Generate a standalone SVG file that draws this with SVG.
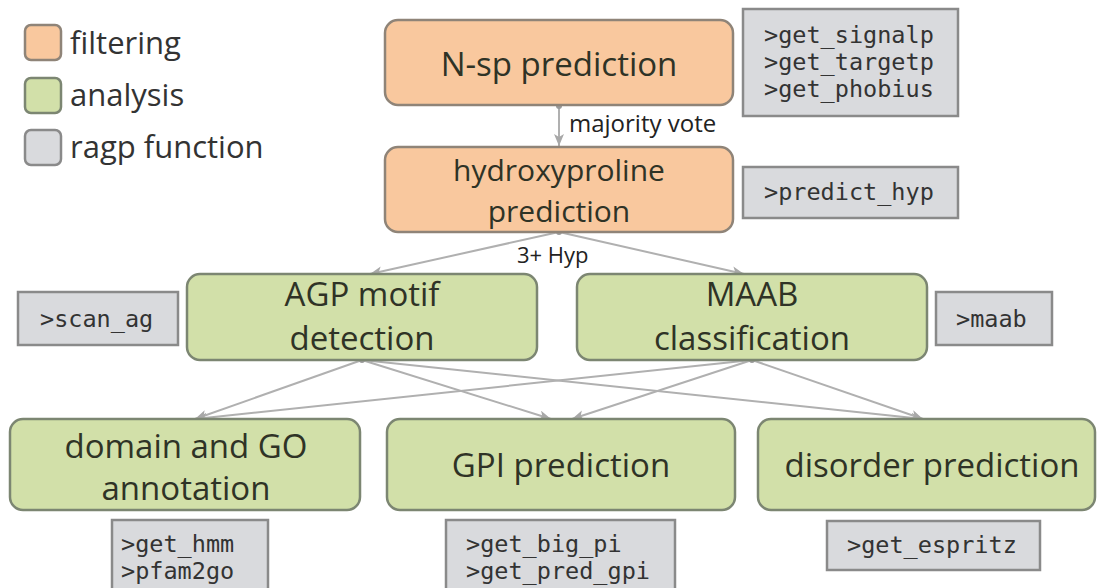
<svg xmlns="http://www.w3.org/2000/svg" width="1102" height="588" viewBox="0 0 1102 588">
<defs>
<marker id="ah" markerUnits="userSpaceOnUse" markerWidth="14" markerHeight="12" refX="12" refY="5" orient="auto">
<path d="M0,0 L12,5 L0,10 L3,5 z" fill="#a8a8a8"/>
</marker>
<style>
.bg{fill:#ffffff}
.filt{fill:#f9c89e;stroke:#8f8478;stroke-width:2.5}
.ana{fill:#d2e0a9;stroke:#7c8672;stroke-width:2.5}
.fn{fill:#d9dadd;stroke:#8a8a8a;stroke-width:2.5}
.lbl{font-family:"Open Sans","Noto Sans",sans-serif;fill:#2f3326;text-anchor:middle}
.big{font-size:33px}
.leg{font-family:"Open Sans","Noto Sans",sans-serif;font-size:31px;fill:#333}
.small{font-family:"Open Sans","Noto Sans",sans-serif;font-size:24px;fill:#222}
.mono{font-family:"DejaVu Sans Mono","Liberation Mono",monospace;font-size:23.5px;fill:#333}
.edge{stroke:#b0b0b0;stroke-width:2;fill:none;marker-end:url(#ah)}
.dot{fill:#9a9a9a}
</style>
</defs>
<rect class="bg" x="0" y="0" width="1102" height="588"/>

<g id="legend">
<rect class="filt" x="25" y="25" width="36" height="35" rx="6"/>
<text class="leg" x="70" y="54">filtering</text>
<rect class="ana" x="25" y="78" width="36" height="35" rx="6"/>
<text class="leg" x="70" y="106">analysis</text>
<rect class="fn" x="25" y="130" width="36" height="35" rx="6"/>
<text class="leg" x="70" y="158">ragp function</text>
</g>

<g id="connectors">
<line class="edge" x1="559" y1="105" x2="559" y2="146"/>
<line class="edge" x1="559" y1="232" x2="370" y2="274"/>
<line class="edge" x1="559" y1="232" x2="744" y2="274"/>
<line class="edge" x1="362" y1="360" x2="195" y2="419"/>
<line class="edge" x1="362" y1="360" x2="551" y2="419"/>
<line class="edge" x1="362" y1="360" x2="923" y2="419"/>
<line class="edge" x1="752" y1="360" x2="195" y2="419"/>
<line class="edge" x1="752" y1="360" x2="572" y2="419"/>
<line class="edge" x1="752" y1="360" x2="923" y2="419"/>
<circle class="dot" cx="559" cy="106" r="3"/>
<circle class="dot" cx="559" cy="232" r="3"/>
<circle class="dot" cx="362" cy="360" r="3"/>
<circle class="dot" cx="752" cy="360" r="3"/>
<text class="small" x="569" y="132">majority vote</text>
<text class="small" x="517" y="263" style="font-size:22px">3+ Hyp</text>
</g>

<g id="nsp">
<rect class="filt" x="385" y="20" width="348" height="85" rx="13"/>
<text class="lbl big" x="559" y="76">N-sp prediction</text>
</g>
<g id="nsp_fn">
<rect class="fn" x="743" y="9" width="215" height="107"/>
<text class="mono" x="764" y="43">&gt;get_signalp</text>
<text class="mono" x="764" y="70">&gt;get_targetp</text>
<text class="mono" x="764" y="97">&gt;get_phobius</text>
</g>

<g id="hyp">
<rect class="filt" x="385" y="147" width="348" height="85" rx="13"/>
<text class="lbl big" x="559" y="181" style="font-size:30px">hydroxyproline</text>
<text class="lbl big" x="559" y="222" style="font-size:30px">prediction</text>
</g>
<g id="hyp_fn">
<rect class="fn" x="743" y="167" width="215" height="51"/>
<text class="mono" x="764" y="200">&gt;predict_hyp</text>
</g>

<g id="agp">
<rect class="ana" x="187" y="274" width="350" height="86" rx="13"/>
<text class="lbl big" x="362" y="306">AGP motif</text>
<text class="lbl big" x="362" y="350">detection</text>
</g>
<g id="agp_fn">
<rect class="fn" x="18" y="292" width="160" height="53"/>
<text class="mono" x="40" y="327">&gt;scan_ag</text>
</g>

<g id="maab">
<rect class="ana" x="577" y="274" width="350" height="86" rx="13"/>
<text class="lbl big" x="752" y="306">MAAB</text>
<text class="lbl big" x="752" y="350">classification</text>
</g>
<g id="maab_fn">
<rect class="fn" x="936" y="292" width="116" height="53"/>
<text class="mono" x="956" y="327">&gt;maab</text>
</g>

<g id="domain">
<rect class="ana" x="10" y="419" width="350" height="91" rx="13"/>
<text class="lbl big" x="186" y="458">domain and GO</text>
<text class="lbl big" x="186" y="500">annotation</text>
</g>
<g id="domain_fn">
<rect class="fn" x="112" y="520" width="156" height="72"/>
<text class="mono" x="121" y="552">&gt;get_hmm</text>
<text class="mono" x="121" y="579">&gt;pfam2go</text>
</g>

<g id="gpi">
<rect class="ana" x="387" y="419" width="348" height="91" rx="13"/>
<text class="lbl big" x="561" y="477">GPI prediction</text>
</g>
<g id="gpi_fn">
<rect class="fn" x="446" y="520" width="229" height="72"/>
<text class="mono" x="466" y="552">&gt;get_big_pi</text>
<text class="mono" x="466" y="579">&gt;get_pred_gpi</text>
</g>

<g id="disorder">
<rect class="ana" x="758" y="419" width="337" height="91" rx="13"/>
<text class="lbl big" x="932" y="477">disorder prediction</text>
</g>
<g id="disorder_fn">
<rect class="fn" x="827" y="521" width="213" height="49"/>
<text class="mono" x="847" y="553">&gt;get_espritz</text>
</g>
</svg>
